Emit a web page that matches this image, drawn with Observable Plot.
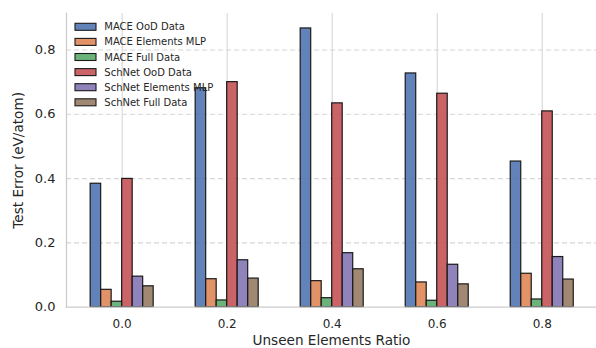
<!DOCTYPE html>
<html>
<head>
<meta charset="utf-8">
<script src="https://cdn.jsdelivr.net/npm/d3@7"></script>
<script src="https://cdn.jsdelivr.net/npm/@observablehq/plot@0.6"></script>
<style>
  html, body { margin: 0; padding: 0; background: #fff; }
  #chart { width: 596px; height: 348px; overflow: hidden; }
</style>
</head>
<body>
<div id="chart"></div>
<script>
const ratios = ["0.0", "0.2", "0.4", "0.6", "0.8"];
const series = ["MACE OoD Data", "MACE Elements MLP", "MACE Full Data", "SchNet OoD Data", "SchNet Elements MLP", "SchNet Full Data"];
const colors = ["#4C72B0", "#DD8452", "#55A868", "#C44E52", "#8172B3", "#937860"];
const maceOoD = [0.384, 0.681, 0.867, 0.727, 0.453];
const maceElementsMLP = [0.054, 0.087, 0.081, 0.077, 0.104];
const maceFull = [0.017, 0.021, 0.028, 0.020, 0.024];
const schnetOoD = [0.399, 0.700, 0.634, 0.664, 0.609];
const schnetElementsMLP = [0.095, 0.146, 0.168, 0.132, 0.156];
const schnetFull = [0.065, 0.089, 0.118, 0.071, 0.086];
const yTicks = [0, 0.2, 0.4, 0.6, 0.8];

const allSeries = [maceOoD, maceElementsMLP, maceFull, schnetOoD, schnetElementsMLP, schnetFull];
const barW = 0.1;
const data = [];
allSeries.forEach((vals, k) => {
  vals.forEach((v, i) => {
    data.push({series: series[k], group: i, x1: i + (k - 3) * barW, x2: i + (k - 2) * barW, value: v});
  });
});

const textColor = "#262626";
const plot = Plot.plot({
  width: 596,
  height: 348,
  marginLeft: 66,
  marginRight: 0,
  marginTop: 13,
  marginBottom: 41.3,
  style: {fontFamily: "DejaVu Sans", color: textColor, background: "white", overflow: "hidden"},
  x: {type: "linear", domain: [-0.53, 4.53], range: [66, 597.4]},
  y: {domain: [0, 0.9135], range: [306.7, 13]},
  color: {domain: series, range: colors},
  marks: [
    Plot.ruleX(ratios.map((_, i) => i), {stroke: "#d6d6d6", strokeWidth: 1.1}),
    Plot.ruleY(yTicks.slice(1), {stroke: "#d6d6d6", strokeWidth: 1.1, strokeDasharray: "5,3"}),
    Plot.rect(data, {x1: "x1", x2: "x2", y1: 0, y2: "value", fill: "series", fillOpacity: 0.88, stroke: "#1a1a1a", strokeWidth: 1.2}),
    Plot.frame({anchor: "left", stroke: "#cccccc", strokeWidth: 1.3}),
    Plot.frame({anchor: "bottom", stroke: "#cccccc", strokeWidth: 1.3}),
    Plot.axisY(yTicks, {tickSize: 0, tickPadding: 11, tickFormat: d3.format(".1f"), fontSize: 13, label: null, fill: textColor}),
    Plot.axisX(ratios.map((_, i) => i), {tickSize: 0, tickPadding: 12, tickFormat: i => ratios[i], fontSize: 12, label: null, fill: textColor}),
    Plot.text(["Test Error (eV/atom)"], {frameAnchor: "left", dx: -48, rotate: -90, fontSize: 13.6, fill: textColor, textAnchor: "middle"}),
    Plot.text(["Unseen Elements Ratio"], {frameAnchor: "bottom", dy: 37.5, fontSize: 13.6, fill: textColor, textAnchor: "middle"})
  ]
});

// legend inside the plot (top-left)
const svg = d3.select(plot);
const lg = svg.append("g").attr("font-family", "DejaVu Sans").attr("font-size", 10).attr("text-anchor", "start");
series.forEach((name, i) => {
  const cy = 26.8 + i * 15.1;
  lg.append("rect").attr("x", 75).attr("y", cy - 3.5).attr("width", 21).attr("height", 7)
    .attr("fill", colors[i]).attr("fill-opacity", 0.88).attr("stroke", "#1a1a1a").attr("stroke-width", 1.1);
  lg.append("text").attr("x", 104.3).attr("y", cy).attr("dy", "0.35em").attr("text-anchor", "start").attr("fill", textColor).text(name);
});

document.getElementById("chart").appendChild(plot);
</script>
</body>
</html>
